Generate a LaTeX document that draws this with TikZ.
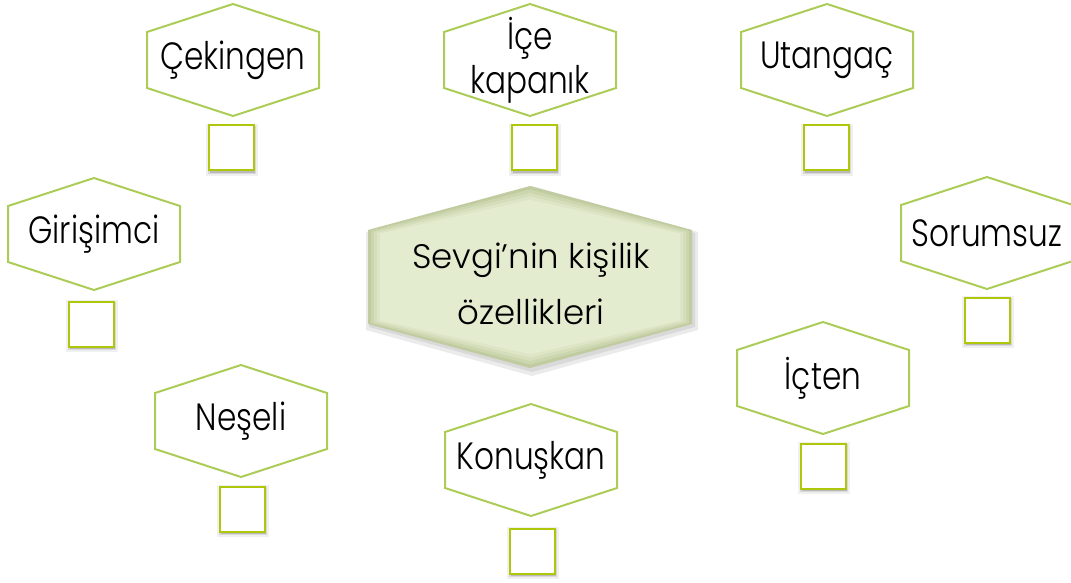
\documentclass[tikz,border=0pt]{standalone}
\usepackage{fontspec}
\setmainfont{Poppins}[UprightFont=* Light]
\newfontfamily\traitfont{Poppins}[UprightFont=* Light, FakeStretch=0.82]
\usetikzlibrary{shadows}
\definecolor{hexgreen}{RGB}{172,204,88}
\definecolor{boxgreen}{RGB}{176,198,10}
\definecolor{centrefill}{RGB}{228,236,208}
\definecolor{centreedge}{RGB}{192,204,160}
% hexagon with pointed top: centre x, centre y, half width, half height, half side
\newcommand{\hexpath}[5]{(#1,#2) ++(0,{-(#4)}) -- ++({#3},{(#4)-(#5)}) -- ++(0,{2*(#5)}) -- ++({-(#3)},{(#4)-(#5)}) -- ++({-(#3)},{(#5)-(#4)}) -- ++(0,{-2*(#5)}) -- cycle}
\begin{document}
\begin{tikzpicture}%
	[x=1pt, y=-1pt,
	hexline/.style={draw=hexgreen, line width=2pt, fill=white},
	word/.style={font=\traitfont\fontsize{38}{44}\selectfont, align=center, inner sep=0pt},
	title/.style={font=\fontsize{34}{56}\selectfont, align=center, inner sep=0pt},
	tickbox/.style={draw=boxgreen, line width=2pt, fill=white, minimum size=45pt, inner sep=0pt,
		drop shadow={shadow xshift=1pt, shadow yshift=-2pt, shadow scale=1.16, opacity=.12},
		drop shadow={shadow xshift=1pt, shadow yshift=-2pt, shadow scale=1.08, opacity=.2},
		drop shadow={shadow xshift=1pt, shadow yshift=-2pt, opacity=.35}}]
	\useasboundingbox (0,0) rectangle (1071,583);

	%centre
	\fill[black, opacity=.08] \hexpath{532}{281}{166}{95}{49};
	\fill[black, opacity=.08] \hexpath{532}{280}{163}{92}{47};
	\foreach \d/\c in {0/0,3/30,6/55,9/80,12/100}
		\fill[centrefill!\c!centreedge] \hexpath{530}{277}{162-\d}{91-1.15*\d}{47-0.3*\d};
	\node[title] (centre) at (531,284) {Sevgi’nin kişilik\\özellikleri};

	%traits
	\foreach \nm/\cx/\cy/\bx/\by/\txt in
		{cekingen/233/60/231/148/Çekingen,
		 icekapanik/530/60/534/148/{İçe\\kapanık},
		 utangac/827/60/826/148/Utangaç,
		 girisimci/94/234/91/324/Girişimci,
		 sorumsuz/987/233/987/320/Sorumsuz,
		 neseli/241/421/242/509/Neşeli,
		 icten/823/378/823/466/İçten,
		 konuskan/531/460/532/551/Konuşkan}
	{
		\draw[hexline] \hexpath{\cx}{\cy}{86}{56}{28};
		\node[word] (\nm) at (\cx,\cy) {\txt};
		\node[tickbox] (\nm-box) at (\bx,\by) {};
	}
\end{tikzpicture}
\end{document}
